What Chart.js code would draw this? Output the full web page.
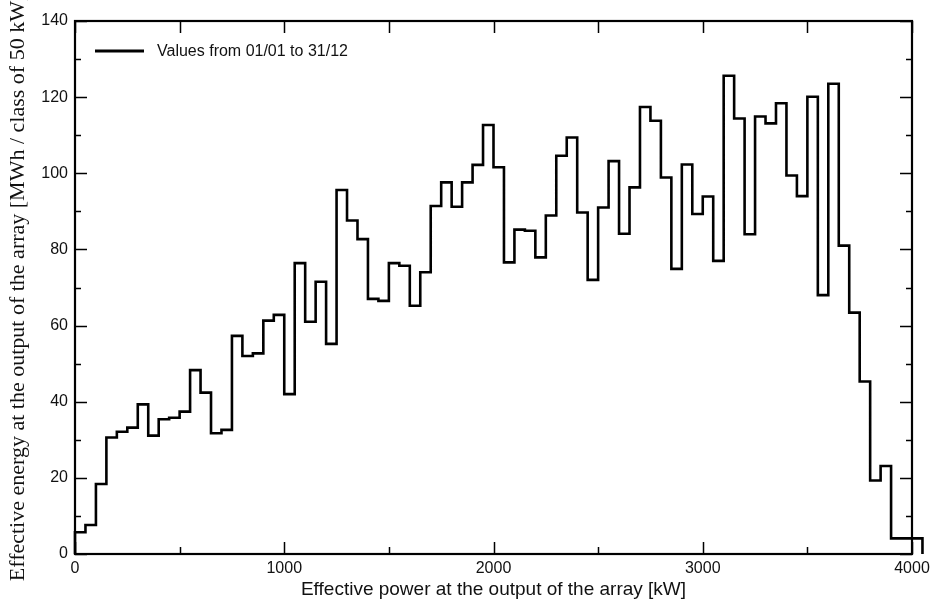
<!DOCTYPE html>
<html><head><meta charset="utf-8">
<script src="https://cdn.jsdelivr.net/npm/chart.js@4/dist/chart.umd.min.js"></script>
<style>html,body{margin:0;padding:0;background:#fff}canvas{display:block}</style>
</head><body>
<canvas id="c" width="936" height="603"></canvas>
<script>
// ---- data ----
const seriesLabel = 'Values from 01/01 to 31/12';
const classWidth = 50; // kW per class
const classStarts = [0,50,100,150,200,250,300,350,400,450,500,550,600,650,700,750,800,850,900,950,
  1000,1050,1100,1150,1200,1250,1300,1350,1400,1450,1500,1550,1600,1650,1700,1750,1800,1850,1900,1950,
  2000,2050,2100,2150,2200,2250,2300,2350,2400,2450,2500,2550,2600,2650,2700,2750,2800,2850,2900,2950,
  3000,3050,3100,3150,3200,3250,3300,3350,3400,3450,3500,3550,3600,3650,3700,3750,3800,3850,3900,3950,4000];
const energy = [5.7,7.6,18.4,30.6,32.1,33.2,39.3,31.1,35.4,35.8,
  37.4,48.3,42.4,31.7,32.6,57.3,52.0,52.7,61.3,62.8,
  42.0,76.4,61.0,71.5,55.2,95.6,87.6,82.7,67.0,66.5,
  76.4,75.7,65.2,74.0,91.4,97.6,91.2,97.6,102.2,112.7,
  101.6,76.6,85.2,84.9,77.9,88.9,104.6,109.4,89.7,72.0,
  91.0,103.2,84.1,96.3,117.4,113.8,98.9,74.9,102.3,89.3,
  93.9,77.0,125.6,114.4,84.0,114.9,113.1,118.4,99.4,94.0,
  120.1,68.0,123.5,81.0,63.4,45.3,19.3,23.1,4.1,4.1,4.1];
const xRange = [0, 4000];
const yRange = [0, 140];
const xTickLabels = [0,1000,2000,3000,4000];
const xTickMarks = [0,500,1000,1500,2000,2500,3000,3500,4000];
const yTickLabels = [0,20,40,60,80,100,120,140];
const yTickMarks = [0,10,20,30,40,50,60,70,80,90,100,110,120,130,140];

// outline points of the histogram (left edge of each class, then closing edge)
const outline = [{x: classStarts[0], y: 0}];
classStarts.forEach((s, i) => outline.push({x: s, y: energy[i]}));
const lastEdge = classStarts[classStarts.length - 1] + classWidth;
outline.push({x: lastEdge, y: energy[energy.length - 1]});
outline.push({x: lastEdge, y: 0});

const frameTicks = {
  id: 'frameTicks',
  beforeDatasetsDraw(chart) {
    const {ctx, chartArea: a, scales: {x, y}} = chart;
    ctx.save();
    ctx.strokeStyle = '#000';
    ctx.lineWidth = 1.5;
    ctx.beginPath();
    yTickMarks.forEach(v => {
      const py = Math.round(y.getPixelForValue(v)) + 0.5;
      const len = (v % 20 === 0) ? 12 : 6;
      ctx.moveTo(a.left, py); ctx.lineTo(a.left + len, py);
      ctx.moveTo(a.right, py); ctx.lineTo(a.right - len, py);
    });
    xTickMarks.forEach(v => {
      const px = Math.round(x.getPixelForValue(v)) + 0.5;
      const len = (v % 1000 === 0) ? 12 : 7;
      ctx.moveTo(px, a.bottom); ctx.lineTo(px, a.bottom - len);
      ctx.moveTo(px, a.top); ctx.lineTo(px, a.top + 12);
    });
    ctx.stroke();
    ctx.lineWidth = 2.2;
    ctx.strokeRect(a.left, a.top, a.right - a.left, a.bottom - a.top);
    ctx.restore();
  },
  afterDraw(chart) {
    const {ctx, chartArea: a} = chart;
    ctx.save();
    const ly = a.top + 30;
    ctx.strokeStyle = '#000';
    ctx.lineWidth = 3;
    ctx.beginPath();
    ctx.moveTo(a.left + 20, ly); ctx.lineTo(a.left + 69, ly);
    ctx.stroke();
    ctx.fillStyle = '#111';
    ctx.font = '16px "Liberation Sans", Arial, sans-serif';
    ctx.textBaseline = 'middle';
    ctx.textAlign = 'left';
    ctx.fillText(chart.data.datasets[0].label, a.left + 82, ly + 1);
    ctx.restore();
  }
};

const sans = '"Liberation Sans", Arial, sans-serif';
new Chart(document.getElementById('c'), {
  type: 'line',
  data: {
    datasets: [{
      label: seriesLabel,
      data: outline,
      stepped: 'before',
      borderColor: '#000',
      borderWidth: 2.6,
      pointRadius: 0,
      fill: false,
      clip: false
    }]
  },
  options: {
    responsive: false,
    animation: false,
    devicePixelRatio: 1,
    layout: {padding: {top: 21, right: 24, left: 0, bottom: 0}},
    plugins: {legend: {display: false}, tooltip: {enabled: false}},
    scales: {
      x: {
        type: 'linear',
        afterDataLimits: s => { s.min = xRange[0]; s.max = xRange[1]; },
        afterBuildTicks: s => { s.ticks = xTickLabels.map(v => ({value: v})); },
        afterFit: s => { s.height = 49; },
        grid: {display: false, drawTicks: false},
        border: {display: false},
        ticks: {padding: 5, color: '#111', font: {family: sans, size: 16}, maxRotation: 0,
          callback: v => String(v)},
        title: {display: true, text: 'Effective power at the output of the array [kW]', color: '#111',
          font: {family: sans, size: 19}, padding: {top: 0, bottom: 2}}
      },
      y: {
        type: 'linear',
        afterDataLimits: s => { s.min = yRange[0]; s.max = yRange[1]; },
        afterBuildTicks: s => { s.ticks = yTickLabels.map(v => ({value: v})); },
        afterFit: s => { s.width = 75; },
        grid: {display: false, drawTicks: false},
        border: {display: false},
        ticks: {padding: 7, color: '#111', font: {family: sans, size: 16}, callback: v => String(v)},
        title: {display: true, text: 'Effective energy at the output of the array [MWh / class of 50 kW]', color: '#111',
          font: {family: '"Liberation Serif", "Times New Roman", serif', size: 22}, padding: {top: 5, bottom: 0}}
      }
    }
  },
  plugins: [frameTicks]
});
</script>
</body></html>
